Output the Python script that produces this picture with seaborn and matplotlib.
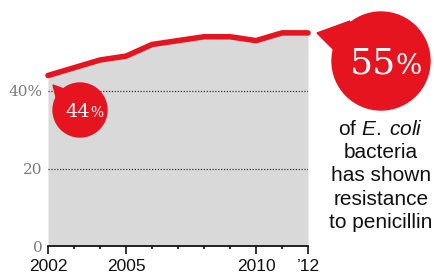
import matplotlib
matplotlib.use('Agg')
import matplotlib.pyplot as plt
import seaborn as sns
from matplotlib.patches import Ellipse, Polygon
from matplotlib.ticker import FixedLocator

# data
years = list(range(2002, 2013))
resistance = [44, 46, 48, 49, 52, 53, 54, 54, 53, 55, 55]
major_years = [2002, 2005, 2010, 2012]
major_labels = ['2002', '2005', '2010', '\u201912']
ytick_vals = [0, 20, 40]
ytick_labels = ['0', '20', '40%']
start_label = '44'
end_label = '55'
note_lines = ['of $\\it{E.\\;coli}$', 'bacteria', 'has shown', 'resistance', 'to penicillin']

RED = '#e5141f'
GREY = '#d9d9d9'

sns.set_style('white')
plt.rcParams['mathtext.fontset'] = 'custom'
plt.rcParams['mathtext.it'] = 'Liberation Sans:italic'
plt.rcParams['mathtext.rm'] = 'Liberation Sans'

W, H = 435, 280
fig = plt.figure(figsize=(W / 100, H / 100), dpi=100)
ax = fig.add_axes([48 / W, (H - 246) / H, 260 / W, 232.5 / H])

def fx(px):  # pixel (from left) -> figure fraction
    return px / W

def fy(py):  # pixel (from top) -> figure fraction
    return (H - py) / H

ax.fill_between(years, resistance, 0, color=GREY, lw=0, zorder=1)
sns.lineplot(x=years, y=resistance, color=RED, lw=4, ax=ax,
             solid_capstyle='round', clip_on=False, zorder=3)

ax.set_xlim(2002, 2012)
ax.set_ylim(0, 60)
ax.set_xlabel('')
ax.set_ylabel('')

for y in ytick_vals[1:]:
    ax.axhline(y, color='#333333', lw=0.9, ls=(0, (1, 1.3)), zorder=2)

for s in ['top', 'right', 'left']:
    ax.spines[s].set_visible(False)
ax.spines['bottom'].set_color('black')
ax.spines['bottom'].set_linewidth(1.2)

ax.set_xticks(major_years)
ax.set_xticklabels(major_labels, fontfamily='Liberation Sans', fontsize=12.5, color='#111111')
ax.xaxis.set_minor_locator(FixedLocator(years))
ax.tick_params(axis='x', which='major', length=5.5, width=1.1, color='black', pad=4, direction='out', bottom=True)
ax.tick_params(axis='x', which='minor', length=2.5, width=1.1, color='black', direction='out', bottom=True)

ax.set_yticks(ytick_vals)
ax.set_yticklabels(ytick_labels, fontfamily='DejaVu Serif', fontsize=11, color='#7a7a7a')
ax.tick_params(axis='y', length=0, pad=4)

# start bubble
fig.patches.append(Polygon([(fx(53), fy(85)), (fx(72), fy(92)), (fx(57), fy(101))],
                           closed=True, color=RED, transform=fig.transFigure, zorder=5))
fig.patches.append(Ellipse((fx(80), fy(110)), 2 * 27 / W, 2 * 27 / H,
                           color=RED, transform=fig.transFigure, zorder=5))
fig.text(fx(90), fy(117), start_label, ha='right', va='baseline', color='white',
         fontfamily='DejaVu Serif', fontsize=14, zorder=6)
fig.text(fx(90), fy(117), '%', ha='left', va='baseline', color='white',
         fontfamily='DejaVu Serif', fontsize=10, zorder=6)

# end bubble
fig.patches.append(Polygon([(fx(317), fy(33)), (fx(350), fy(21)), (fx(340), fy(56))],
                           closed=True, color=RED, transform=fig.transFigure, zorder=5))
fig.patches.append(Ellipse((fx(381), fy(61)), 2 * 49 / W, 2 * 49 / H,
                           color=RED, transform=fig.transFigure, zorder=5))
fig.text(fx(396), fy(74), end_label, ha='right', va='baseline', color='white',
         fontfamily='DejaVu Serif', fontsize=26, zorder=6)
fig.text(fx(396), fy(74), '%', ha='left', va='baseline', color='white',
         fontfamily='DejaVu Serif', fontsize=20, zorder=6)

for i, line in enumerate(note_lines):
    fig.text(fx(381), fy(135 + 23.2 * i), line, ha='center', va='baseline',
             fontfamily='Liberation Sans', fontsize=15, color='#111111')

fig.savefig('out.png', dpi=100)
